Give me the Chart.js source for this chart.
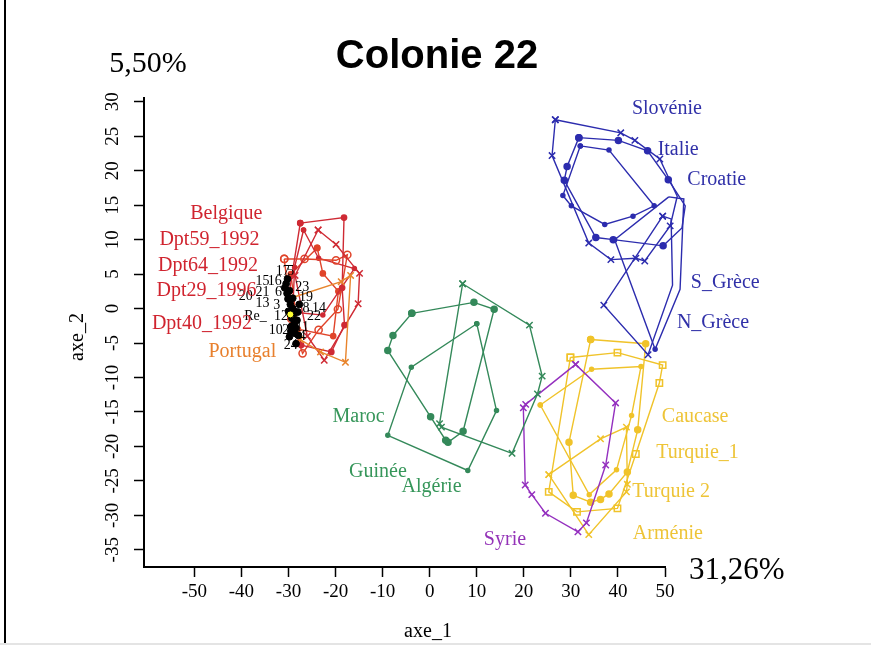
<!DOCTYPE html>
<html><head><meta charset="utf-8">
<script src="https://cdn.jsdelivr.net/npm/chart.js@4.4.1/dist/chart.umd.min.js"></script>
<style>
html,body{margin:0;padding:0;background:#fff;}
#wrap{position:relative;width:871px;height:645px;overflow:hidden;}
#c{position:absolute;left:0;top:0;}
#frame{position:absolute;left:4px;top:0;width:2px;height:645px;background:#000;}
#foot{position:absolute;left:0;top:643px;width:871px;height:2px;background:#e4e4e4;}
</style></head><body>
<div id="wrap"><canvas id="c" width="871" height="645"></canvas><div id="frame"></div><div id="foot"></div></div>
<script>
// ---------- texts ----------
const chartTitle = 'Colonie 22';
const xAxisTitle = 'axe_1';
const yAxisTitle = 'axe_2';
const xInertia = '31,26%';
const yInertia = '5,50%';

// ---------- axes ----------
const xTicks = [-50,-40,-30,-20,-10,0,10,20,30,40,50];
const yTicks = [-35,-30,-25,-20,-15,-10,-5,0,5,10,15,20,25,30];
const xRange = [-60.7, 50];
const yRange = [-37.5, 30.55];

// ---------- blue group ----------
const slovenie = [[26.7,27.4],[40.6,25.5],[43.6,24.4],[48.9,21.7],[52.6,16.3],[51.1,12.0],[45.7,6.9],[43.8,7.3],[38.5,7.1],[33.8,9.5],[26.0,22.2]];
const sGrece = [[49.5,13.4],[51.3,13.0],[51.6,3.4],[46.4,-6.7],[37.0,0.5]];
const italie = [[31.7,24.8],[40.1,24.4],[46.3,22.9],[50.7,18.7],[54.3,14.9],[53.6,11.7],[49.6,9.1],[39.0,10.0],[35.3,10.3],[28.6,18.6],[29.2,20.6]];
const croatie = [[32.0,23.6],[38.1,23.0],[47.7,14.9],[43.2,13.4],[37.2,12.2],[30.1,14.9],[28.3,16.4]];
const nGrece = [[50.8,16.2],[54.0,15.9],[53.2,2.8],[47.9,-5.9],[39.3,10.0]];

// ---------- green group ----------
const maroc = [[7.0,3.6],[21.2,-2.4],[23.9,-9.8],[22.9,-12.4],[17.5,-21.0],[2.5,-17.2],[2.1,-16.7]];
const algerie = [[-3.8,-0.7],[9.4,0.9],[13.7,-0.1],[7.1,-17.8],[3.9,-19.4],[3.4,-19.1],[0.2,-15.7],[-8.9,-6.1],[-7.8,-3.9]];
const guinee = [[10.0,-2.2],[14.2,-14.8],[8.1,-23.5],[-8.9,-18.4],[-3.9,-8.5]];

// ---------- yellow / purple group ----------
const caucase = [[29.9,-7.1],[39.9,-6.4],[49.5,-8.2],[48.8,-10.8],[43.8,-21.1],[39.9,-29.0],[31.3,-29.5],[25.3,-26.6]];
const turquie1 = [[34.2,-4.5],[45.9,-5.1],[44.2,-17.6],[42.0,-23.7],[38.1,-26.9],[36.3,-27.7],[34.2,-28.1],[30.5,-27.1],[29.6,-19.4]];
const turquie2 = [[23.5,-14.0],[34.4,-8.8],[44.9,-8.4],[42.9,-15.5],[39.7,-23.4],[33.9,-27.0]];
const armenie = [[25.3,-24.1],[36.3,-18.9],[41.8,-17.2],[42.0,-25.5],[41.8,-26.6],[33.8,-32.8]];
const syrie = [[31.0,-8.1],[39.5,-13.7],[37.4,-22.7],[33.3,-31.1],[31.5,-32.4],[24.6,-29.7],[21.7,-27.0],[20.3,-25.6],[19.9,-14.4],[20.4,-13.9]];

// ---------- red / orange group ----------
const belgique = [[-27.5,12.4],[-18.2,13.2],[-18.6,3.0],[-18.1,-2.4],[-20.9,-6.3],[-27.3,-5.3],[-29.8,2.5]];
const dpt59 = [[-23.7,11.4],[-19.9,9.3],[-14.9,5.1],[-15.2,0.7],[-22.4,-7.5],[-26.0,-4.0],[-28.6,4.8]];
const dpt64 = [[-30.9,7.2],[-26.6,7.2],[-19.9,7.0],[-17.5,7.8],[-19.5,-0.1],[-23.6,-3.1],[-27.0,-6.5],[-29.4,-1.5]];
const dpt29 = [[-26.8,11.4],[-23.6,7.3],[-16.0,5.8],[-22.7,-0.95],[-29.1,-0.5],[-28.7,6.0]];
const dpt40 = [[-23.9,8.8],[-22.7,5.1],[-19.4,2.5],[-20.5,-4.0],[-28.0,-3.0],[-29.5,5.0]];
const portugal = [[-29.6,1.5],[-18.8,3.9],[-16.8,4.8],[-17.9,-7.8],[-23.2,-6.3],[-27.5,-4.5]];

// ---------- individual colonies (black) ----------
const colonies = [[-30.2,4.3],[-30.8,3.0],[-30.3,2.2],[-30.1,1.4],[-29.6,0.6],[-29.1,0.0],[-28.8,-0.7],[-29.3,-1.4],[-28.8,-2.2],[-28.2,-1.7],[-27.7,0.6],[-29.8,-4.1],[-28.4,-5.1],[-27.9,-3.9],[-29.1,1.5],[-30.5,3.6],[-29.8,2.6],[-28.9,-0.3],[-28.5,-2.8],[-29.4,-2.6],[-28.0,-0.5],[-30.0,-0.4],[-29.5,-3.3],[-28.6,-3.6]];
const reference = [[-29.6,-0.85]];
const colonyText = ['17','5','15','16','1','23','20','21','6','19','13','3','8','14','Re_','12','22','10','2','11','4','24'];
const colonyTextX = [-31.2,-29.5,-35.5,-32.9,-30.6,-27.1,-39.1,-35.5,-32.1,-26.3,-35.5,-32.5,-26.3,-23.5,-37.0,-31.6,-24.6,-32.7,-30.6,-27.1,-27.1,-29.5];
const colonyTextY = [5.45,5.45,4.0,4.0,4.0,3.1,1.8,2.4,2.4,1.7,0.8,0.5,0.07,0.07,-1.1,-1.1,-1.2,-3.1,-3.1,-2.7,-4.1,-5.3];

// ---------- group names ----------
const groupNames = ['Belgique','Dpt59_1992','Dpt64_1992','Dpt29_1996','Dpt40_1992','Portugal','Slovénie','Italie','Croatie','S_Grèce','N_Grèce','Maroc','Guinée','Algérie','Caucase','Turquie_1','Turquie 2','Arménie','Syrie'];
const groupNameX = [-43.2,-46.8,-47.1,-47.4,-48.4,-39.8,50.4,52.8,61.0,62.8,60.2,-15.1,-11.0,0.4,56.4,56.9,51.3,50.6,16.0];
const groupNameY = [13.0,9.24,5.46,1.83,-2.96,-6.99,28.3,22.3,17.96,2.95,-2.86,-16.4,-24.4,-26.6,-16.4,-21.7,-27.3,-33.4,-34.3];

// ---------- styling ----------
const RED = '#cf2a34', RED2 = '#e0442a', ORANGE = '#e8842c', BLUE = '#2c2cae', GREEN = '#34895a', YELLOW = '#f0c32a', PURPLE = '#9430bf';
const nameColors = ['#d0242f','#d0242f','#d0242f','#d0242f','#d0242f','#e8802e',
  '#3030a8','#3030a8','#3030a8','#3030a8','#3030a8','#36965a','#36965a','#36965a',
  '#eec437','#eec437','#eec437','#eec437','#9433b8'];
const SERIF = '"Liberation Serif","Times New Roman",Times,serif';

function poly(pts, color, style, r, fill, bw) {
  const closed = pts.concat([pts[0]]);
  return {
    data: closed.map(p => ({x: p[0], y: p[1]})),
    showLine: true, borderColor: color, borderWidth: 1.4, tension: 0,
    pointStyle: style, pointRadius: r, pointHoverRadius: r,
    pointBorderColor: color, pointBackgroundColor: fill,
    pointBorderWidth: bw || 1.5, clip: false
  };
}
function pts(list, color, r, border) {
  return {
    data: list.map(p => ({x: p[0], y: p[1]})), showLine: false,
    pointStyle: 'circle', pointRadius: r, pointHoverRadius: r,
    pointBackgroundColor: color, pointBorderColor: border || color,
    pointBorderWidth: 1, clip: false
  };
}
const NONE = 'rgba(0,0,0,0)';

const datasets = [
  pts(reference, '#ffff33', 3.5, '#000'),
  pts(colonies, '#000', 3.4),
  poly(portugal, ORANGE, 'crossRot', 4.5, NONE),
  poly(belgique, RED, 'circle', 2.6, RED),
  poly(dpt59, RED, 'crossRot', 4.5, NONE),
  poly(dpt64, RED2, 'circle', 3.6, NONE),
  poly(dpt29, RED, 'circle', 2, RED),
  poly(dpt40, RED2, 'circle', 2.6, RED2),
  poly(slovenie, BLUE, 'crossRot', 4.5, NONE),
  poly(sGrece, BLUE, 'crossRot', 4.5, NONE),
  poly(italie, BLUE, 'circle', 3, BLUE),
  poly(croatie, BLUE, 'circle', 2, BLUE),
  poly(nGrece, BLUE, 'circle', 2, BLUE),
  poly(maroc, GREEN, 'crossRot', 4.5, NONE),
  poly(algerie, GREEN, 'circle', 3, GREEN),
  poly(guinee, GREEN, 'circle', 2, GREEN),
  poly(syrie, PURPLE, 'crossRot', 4.5, NONE),
  poly(caucase, YELLOW, 'rect', 4.5, NONE),
  poly(turquie1, YELLOW, 'circle', 3, YELLOW),
  poly(turquie2, YELLOW, 'circle', 2, YELLOW),
  poly(armenie, YELLOW, 'crossRot', 4.5, NONE)
];

const annotations = {
  id: 'annotations',
  afterDatasetsDraw(chart) {
    const {ctx, scales: {x, y}} = chart;
    ctx.save();
    // colony numbers
    ctx.fillStyle = '#000';
    ctx.font = '14px ' + SERIF;
    ctx.textAlign = 'center';
    ctx.textBaseline = 'middle';
    colonyText.forEach((t, i) => ctx.fillText(t, x.getPixelForValue(colonyTextX[i]), y.getPixelForValue(colonyTextY[i])));
    // group names
    ctx.font = '20px ' + SERIF;
    ctx.textBaseline = 'alphabetic';
    groupNames.forEach((t, i) => {
      ctx.fillStyle = nameColors[i];
      ctx.fillText(t, x.getPixelForValue(groupNameX[i]), y.getPixelForValue(groupNameY[i]));
    });
    // title and inertia
    ctx.fillStyle = '#000';
    ctx.font = 'bold 40px "Liberation Sans",Arial,Helvetica,sans-serif';
    ctx.fillText(chartTitle, 437, 68);
    ctx.font = '30px ' + SERIF;
    ctx.fillText(yInertia, 148, 72);
    ctx.textAlign = 'left';
    ctx.font = '31px ' + SERIF;
    ctx.fillText(xInertia, 689, 579);
    // axis titles
    ctx.textAlign = 'center';
    ctx.font = '20px ' + SERIF;
    ctx.fillText(xAxisTitle, 428, 637);
    ctx.translate(78, 337);
    ctx.rotate(-Math.PI / 2);
    ctx.textBaseline = 'middle';
    ctx.fillText(yAxisTitle, 0, 0);
    ctx.restore();
  }
};

const tickFont = {family: SERIF, size: 19};
new Chart(document.getElementById('c'), {
  type: 'scatter',
  data: {datasets},
  options: {
    responsive: false, animation: false, events: [],
    layout: {padding: {left: 0, top: 98, right: 206, bottom: 0}},
    plugins: {legend: {display: false}, tooltip: {enabled: false}, title: {display: false}},
    scales: {
      x: {
        type: 'linear', min: xRange[0], max: xRange[1],
        afterBuildTicks: s => { s.ticks = xTicks.map(v => ({value: v})); },
        afterFit: s => { s.height = 78; },
        border: {display: true, color: '#000', width: 2},
        grid: {drawOnChartArea: false, drawTicks: true, tickLength: 10, tickColor: '#000', tickWidth: 1.5},
        ticks: {color: '#000', font: tickFont, padding: 4, autoSkip: false, maxRotation: 0, minRotation: 0, callback: v => String(v)}
      },
      y: {
        type: 'linear', min: yRange[0], max: yRange[1],
        afterBuildTicks: s => { s.ticks = yTicks.map(v => ({value: v})); },
        afterFit: s => { s.width = 144; },
        border: {display: true, color: '#000', width: 2},
        grid: {drawOnChartArea: false, drawTicks: true, tickLength: 10, tickColor: '#000', tickWidth: 1.5},
        ticks: {color: '#000', font: tickFont, padding: 8, autoSkip: false, minRotation: 90, maxRotation: 90, crossAlign: 'center', callback: v => String(v)}
      }
    }
  },
  plugins: [annotations]
});
</script>
</body></html>
